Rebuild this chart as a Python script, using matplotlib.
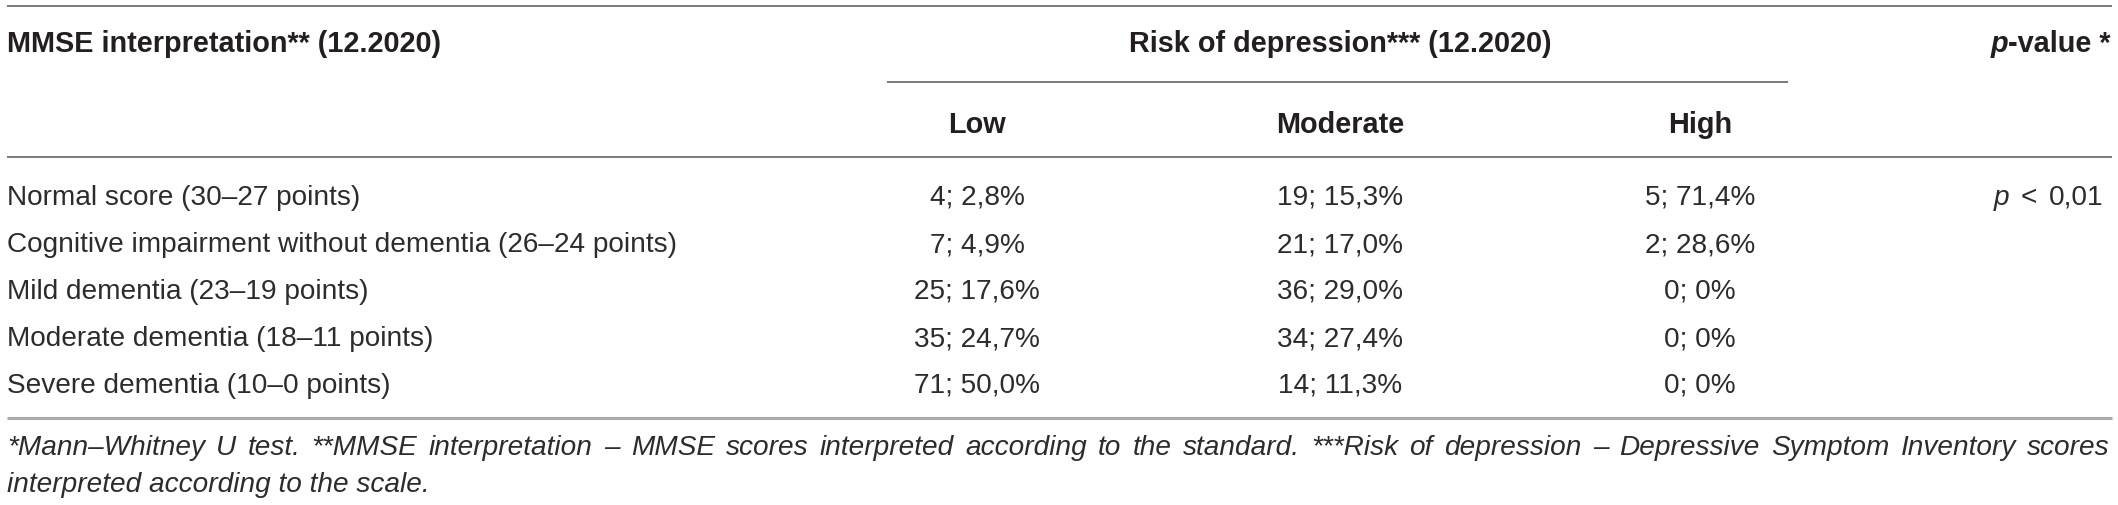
import matplotlib
matplotlib.use("Agg")
import matplotlib.pyplot as plt

# ---------------- data ----------------
row_header = "MMSE interpretation** (12.2020)"
group_header = "Risk of depression*** (12.2020)"
risk_levels = ["Low", "Moderate", "High"]
mmse_categories = [
    "Normal score (30\u201327 points)",
    "Cognitive impairment without dementia (26\u201324 points)",
    "Mild dementia (23\u201319 points)",
    "Moderate dementia (18\u201311 points)",
    "Severe dementia (10\u20130 points)",
]
low_n = [4, 7, 25, 35, 71]
low_pct = [2.8, 4.9, 17.6, 24.7, 50.0]
moderate_n = [19, 21, 36, 34, 14]
moderate_pct = [15.3, 17.0, 29.0, 27.4, 11.3]
high_n = [5, 2, 0, 0, 0]
high_pct = [71.4, 28.6, 0, 0, 0]
p_value_parts = ["p", "<", "0,01"]
footnote_line1 = ("*Mann\u2013Whitney U test. **MMSE interpretation \u2013 MMSE scores interpreted "
                  "according to the standard. ***Risk of depression \u2013 Depressive Symptom "
                  "Inventory scores")
footnote_line2 = "interpreted according to the scale."

# ---------------- style ----------------
W, H = 2118, 505
FONT = "Liberation Sans"
TXT = "#231f20"
BODY_C = "#2c2c2c"
BODY = 20.2
HEAD = 20.8
RULE = "#7a7a7a"

fig = plt.figure(figsize=(W / 100, H / 100), dpi=100)
ax = fig.add_axes([0, 0, 1, 1])
ax.set_xlim(0, W)
ax.set_ylim(H, 0)
ax.axis("off")
fig.canvas.draw()
renderer = fig.canvas.get_renderer()


def fmt(n, p):
    if p == 0:
        return f"{n}; 0%"
    return f"{n}; {p:.1f}".replace(".", ",") + "%"


def width_of(s, **kw):
    t = ax.text(0, 0, s, fontfamily=FONT, **kw)
    w = t.get_window_extent(renderer).width
    t.remove()
    return w


def runs(x, y, parts, ha="left", size=BODY, color=TXT, gap=0.0):
    # parts: list of (text, style, weight); placed side by side with 'gap' px between
    ws = [width_of(s, fontsize=size, style=st, weight=wt) for s, st, wt in parts]
    total = sum(ws) + gap * (len(parts) - 1)
    if ha == "right":
        x0 = x - total
    elif ha == "center":
        x0 = x - total / 2
    else:
        x0 = x
    for (s, st, wt), w in zip(parts, ws):
        ax.text(x0 + w, y, s, ha="right", va="baseline", fontfamily=FONT,
                fontsize=size, style=st, weight=wt, color=color)
        x0 += w + gap


def justified(x0, x1, y, text, size=BODY, style="italic"):
    words = text.split(" ")
    ws = [width_of(w, fontsize=size, style=style) for w in words]
    gap = (x1 - x0 - sum(ws)) / (len(words) - 1)
    x = x0
    for w, wd in zip(words, ws):
        ax.text(x, y, w, ha="left", va="baseline", fontfamily=FONT,
                fontsize=size, style=style, color=BODY_C)
        x += wd + gap


LEFT, RIGHT = 7, 2112
col_x = [977, 1340, 1700]
p_right = 2104

# rules
ax.plot([LEFT, RIGHT], [6, 6], color=RULE, lw=1.4, solid_capstyle="butt")
ax.plot([887, 1788], [82, 82], color=RULE, lw=1.4, solid_capstyle="butt")
ax.plot([LEFT, RIGHT], [157, 157], color=RULE, lw=1.4, solid_capstyle="butt")
ax.plot([LEFT, RIGHT], [418, 418], color="#aaaaaa", lw=2.2, solid_capstyle="butt")

# header row 1
ax.text(LEFT, 52, row_header, ha="left", va="baseline", fontfamily=FONT,
        fontsize=HEAD, weight="bold", color=TXT)
ax.text(col_x[1], 52, group_header, ha="center", va="baseline", fontfamily=FONT,
        fontsize=HEAD, weight="bold", color=TXT)
runs(RIGHT - 1, 52, [("p", "italic", "bold"), ("-value *", "normal", "bold")],
     ha="right", size=HEAD)

# header row 2
for cx, lvl in zip(col_x, risk_levels):
    ax.text(cx, 133, lvl, ha="center", va="baseline", fontfamily=FONT,
            fontsize=HEAD, weight="bold", color=TXT)

# body
baselines = [205, 252, 299, 346, 393]
for i, cat in enumerate(mmse_categories):
    y = baselines[i]
    ax.text(LEFT, y, cat, ha="left", va="baseline", fontfamily=FONT,
            fontsize=BODY, color=BODY_C)
    for cx, ns, ps in zip(col_x, (low_n, moderate_n, high_n),
                          (low_pct, moderate_pct, high_pct)):
        ax.text(cx, y, fmt(ns[i], ps[i]), ha="center", va="baseline",
                fontfamily=FONT, fontsize=BODY, color=BODY_C)

runs(p_right, baselines[0],
     [(p_value_parts[0], "italic", "normal"),
      (p_value_parts[1], "normal", "normal"),
      (p_value_parts[2], "normal", "normal")],
     ha="right", color=BODY_C, gap=12)

# footnotes
justified(LEFT, RIGHT - 2, 455, footnote_line1)
ax.text(LEFT, 492, footnote_line2, ha="left", va="baseline", fontfamily=FONT,
        fontsize=BODY, style="italic", color=BODY_C)

fig.savefig("out.png", dpi=100)
